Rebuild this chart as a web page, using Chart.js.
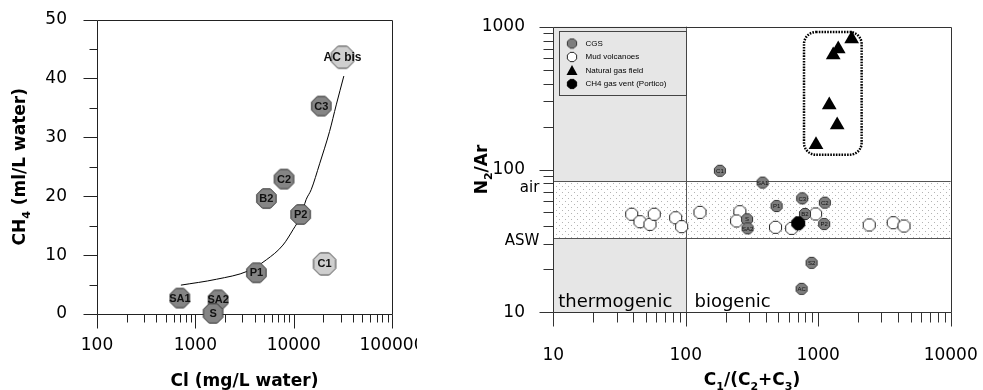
<!DOCTYPE html>
<html>
<head>
<meta charset="utf-8">
<script src="https://cdn.jsdelivr.net/npm/chart.js@4.4.1/dist/chart.umd.min.js"></script>
<style>
  html, body { margin: 0; padding: 0; background: #fff; }
  #left { position: absolute; left: 0; top: 0; width: 417px; height: 390px; overflow: hidden; }
  #right { position: absolute; left: 430px; top: 0; width: 548px; height: 390px; overflow: hidden; }
</style>
</head>
<body>
<div id="left"><canvas id="ch4" width="460" height="390" style="width:460px;height:390px"></canvas></div>
<div id="right"><canvas id="n2ar" width="553" height="390" style="width:553px;height:390px"></canvas></div>
<script>
// ---- left panel: CH4 vs chloride ----
const cgsSamples = ['AC bis', 'C3', 'C2', 'B2', 'P2', 'C1', 'P1', 'SA1', 'SA2', 'S'];
const chlorideMgL = [31400, 19100, 7980, 5280, 11780, 20640, 4180, 696, 1705, 1515];
const methaneMlL = [43.6, 35.3, 22.9, 19.6, 16.9, 8.5, 7.0, 2.7, 2.4, 0.1];
// trend line
const trendCl = [713, 1641, 3436, 5273, 7780, 9840, 11940, 13370, 15070, 18360, 23180, 27100, 32370];
const trendCh4 = [4.9, 5.9, 7.3, 9.2, 11.7, 14.3, 16.8, 19.4, 21.1, 25.5, 31.0, 35.5, 40.4];
const clTicks = [100, 1000, 10000, 100000];
const ch4Ticks = [0, 10, 20, 30, 40, 50];
const ch4Minor = [5, 15, 25, 35, 45];

// ---- right panel: N2/Ar vs C1/(C2+C3) ----
const mudRatio = [39.1, 45.1, 53.7, 57.8, 83.9, 93.1, 128, 256, 242, 476, 630, 955, 2427, 3681, 4436];
const mudN2Ar = [48.6, 43.1, 41.3, 48.6, 45.9, 39.8, 50.1, 50.6, 43.6, 39.4, 38.7, 48.8, 40.9, 42.4, 40.2];
const cgsNames = ['C1', 'SA1', 'S', 'SA2', 'P1', 'C3', 'B2', 'C2', 'P2', 'S2', 'AC'];
const cgsRatio = [181, 380, 290, 293, 485, 757, 794, 1122, 1109, 891, 749];
const cgsN2Ar = [98, 81, 44.8, 38.7, 55.5, 62.8, 48.8, 58.6, 41.5, 22.2, 14.6];
const ventRatio = [706];
const ventN2Ar = [42];
const gasRatio = [1787, 1416, 1297, 1211, 1390, 962];
const gasN2Ar = [820, 698, 634, 283, 205, 149];
const ratioTicks = [10, 100, 1000, 10000];
const n2arTicks = [10, 100, 1000];
const airN2Ar = 83;
const aswN2Ar = 33;
const thermoLimit = 100;

Chart.defaults.font.family = 'DejaVu Sans';
Chart.defaults.color = '#000';

const lightSamples = new Set(['AC bis', 'C1']);
const pts = (xs, ys) => xs.map((x, i) => ({ x: x, y: ys[i] }));

function logMinors(majors) {
  const out = [];
  for (let i = 0; i < majors.length - 1; i++)
    for (let k = 2; k < 10; k++) out.push(majors[i] * k);
  return out;
}

function octagon(r, fill, stroke) {
  const c = document.createElement('canvas');
  const s = Math.ceil(2 * r + 2);
  c.width = c.height = s;
  const g = c.getContext('2d');
  g.beginPath();
  for (let i = 0; i < 8; i++) {
    const a = Math.PI / 8 + i * Math.PI / 4;
    const px = s / 2 + r * Math.cos(a), py = s / 2 + r * Math.sin(a);
    if (i) g.lineTo(px, py); else g.moveTo(px, py);
  }
  g.closePath();
  g.fillStyle = fill;
  g.fill();
  g.strokeStyle = stroke;
  g.lineWidth = 1;
  g.stroke();
  return c;
}

// text with subscripts, centred on cx, baseline at cy
function drawRich(ctx, parts, cx, cy, size, rotate) {
  ctx.save();
  ctx.translate(cx, cy);
  if (rotate) ctx.rotate(-Math.PI / 2);
  const sub = Math.round(size * 0.62);
  const fonts = parts.map(p => 'bold ' + (p[1] ? sub : size) + 'px DejaVu Sans');
  let w = 0;
  const ws = parts.map((p, i) => { ctx.font = fonts[i]; const m = ctx.measureText(p[0]).width; w += m; return m; });
  let x = -w / 2;
  ctx.fillStyle = '#000';
  ctx.textBaseline = 'alphabetic';
  parts.forEach((p, i) => {
    ctx.font = fonts[i];
    ctx.fillText(p[0], x, p[1] ? size * 0.28 : 0);
    x += ws[i];
  });
  ctx.restore();
}

// frame + tick marks, drawn through the scales
const frame = {
  id: 'frame',
  beforeDatasetsDraw(chart, args, o) {
    const { ctx, chartArea: a } = chart;
    const xs = chart.scales.x, ys = chart.scales.y;
    const L = Math.round(a.left) + 0.5, R = Math.round(a.right) + 0.5;
    const T = Math.round(a.top) + 0.5, B = Math.round(a.bottom) + 0.5;
    ctx.save();
    ctx.strokeStyle = o.color;
    ctx.lineWidth = 1;
    ctx.beginPath();
    ctx.rect(L, T, R - L, B - T);
    o.xMajor.forEach(v => { const p = Math.round(xs.getPixelForValue(v)) + 0.5; ctx.moveTo(p, B); ctx.lineTo(p, B + o.major); });
    o.xMinor.forEach(v => { const p = Math.round(xs.getPixelForValue(v)) + 0.5; ctx.moveTo(p, B); ctx.lineTo(p, B + o.minor); });
    o.yMajor.forEach(v => { const p = Math.round(ys.getPixelForValue(v)) + 0.5; ctx.moveTo(L, p); ctx.lineTo(L - o.major, p); });
    o.yMinor.forEach(v => { const p = Math.round(ys.getPixelForValue(v)) + 0.5; ctx.moveTo(L, p); ctx.lineTo(L - o.minor, p); });
    ctx.stroke();
    ctx.restore();
  }
};

const pointNames = {
  id: 'pointNames',
  afterDatasetsDraw(chart) {
    const ctx = chart.ctx;
    chart.data.datasets.forEach((ds, i) => {
      if (!ds.names) return;
      const meta = chart.getDatasetMeta(i);
      ctx.save();
      ctx.fillStyle = '#111';
      ctx.textAlign = 'center';
      ctx.textBaseline = 'middle';
      meta.data.forEach((el, j) => {
        const n = ds.names[j];
        ctx.font = n === 'AC bis' ? 'bold 12px Liberation Sans' : ds.nameFont;
        ctx.fillText(n, el.x, el.y + 0.5);
      });
      ctx.restore();
    });
  }
};

const leftTitles = {
  id: 'leftTitles',
  afterDraw(chart) {
    const { ctx, chartArea: a } = chart;
    drawRich(ctx, [['Cl (mg/L water)', false]], (a.left + a.right) / 2, 386, 17, false);
    drawRich(ctx, [['CH', false], ['4', true], [' (ml/L water)', false]], 25, (a.top + a.bottom) / 2, 17, true);
  }
};

// axis whose box size is fixed so the plot area lands where the figure has it
const fixedScale = (min, max, type, pad, ticks, isX, size) => ({
  type: type, min: min, max: max,
  afterFit: s => {
    if (isX) s.height = size; else s.width = size;
    s.paddingLeft = s.paddingRight = s.paddingTop = s.paddingBottom = 0;
  },
  afterBuildTicks: s => { s.ticks = ticks.map(v => ({ value: v })); },
  grid: { display: false, drawTicks: false },
  border: { display: false },
  ticks: { padding: pad, color: '#000', font: { size: 17 }, maxRotation: 0, autoSkip: false, callback: v => String(v) }
});

new Chart(document.getElementById('ch4'), {
  type: 'scatter',
  data: {
    datasets: [
      {
        label: 'CGS',
        data: pts(chlorideMgL, methaneMlL),
        names: cgsSamples,
        nameFont: 'bold 11px Liberation Sans',
        pointStyle: cgsSamples.map(n => lightSamples.has(n) ? octagon(12, '#cfcfcf', '#444') : octagon(10.5, '#858585', '#333')),
        clip: false,
        order: 0
      },
      {
        label: 'trend',
        data: pts(trendCl, trendCh4),
        showLine: true,
        pointRadius: 0,
        borderColor: '#000',
        borderWidth: 1,
        cubicInterpolationMode: 'monotone',
        clip: false,
        order: 1
      }
    ]
  },
  options: {
    responsive: false,
    animation: false,
    devicePixelRatio: 1,
    events: [],
    layout: { padding: { left: 0, top: 19.5, right: 68, bottom: 0 } },
    scales: {
      x: fixedScale(100, 100000, 'logarithmic', 21, clTicks, true, 76),
      y: fixedScale(0, 50, 'linear', 30, ch4Ticks, false, 97)
    },
    plugins: {
      legend: { display: false },
      tooltip: { enabled: false },
      frame: { color: '#222', major: 14, minor: 8, xMajor: clTicks, xMinor: logMinors(clTicks), yMajor: ch4Ticks, yMinor: ch4Minor }
    }
  },
  plugins: [frame, pointNames, leftTitles]
});

// ---- right panel decorations ----
function dotPattern(ctx) {
  const t = document.createElement('canvas');
  t.width = t.height = 6;
  const g = t.getContext('2d');
  g.fillStyle = '#b4b4b4';
  g.fillRect(0, 0, 1, 1);
  g.fillRect(3, 3, 1, 1);
  return ctx.createPattern(t, 'repeat');
}

function roundRectPath(ctx, x, y, w, h, r) {
  ctx.beginPath();
  ctx.moveTo(x + r, y);
  ctx.arcTo(x + w, y, x + w, y + h, r);
  ctx.arcTo(x + w, y + h, x, y + h, r);
  ctx.arcTo(x, y + h, x, y, r);
  ctx.arcTo(x, y, x + w, y, r);
  ctx.closePath();
}

const zones = {
  id: 'zones',
  beforeDatasetsDraw(chart) {
    const { ctx, chartArea: a, scales: { x, y } } = chart;
    const xT = Math.round(x.getPixelForValue(thermoLimit)) + 0.5;
    const yA = Math.round(y.getPixelForValue(airN2Ar)) + 0.5;
    const yW = Math.round(y.getPixelForValue(aswN2Ar)) + 0.5;
    ctx.save();
    ctx.fillStyle = '#e6e6e6';
    ctx.fillRect(a.left, a.top, xT - a.left, a.bottom - a.top);
    ctx.fillStyle = '#fff';
    ctx.fillRect(a.left, yA, a.right - a.left, yW - yA);
    ctx.fillStyle = dotPattern(ctx);
    ctx.fillRect(a.left, yA, a.right - a.left, yW - yA);
    ctx.strokeStyle = '#555';
    ctx.lineWidth = 1;
    ctx.beginPath();
    ctx.moveTo(a.left, yA); ctx.lineTo(a.right, yA);
    ctx.moveTo(a.left, yW); ctx.lineTo(a.right, yW);
    ctx.moveTo(xT, a.top); ctx.lineTo(xT, a.bottom);
    ctx.stroke();
    // zone names
    ctx.fillStyle = '#000';
    ctx.font = '18px DejaVu Sans';
    ctx.textBaseline = 'alphabetic';
    ctx.fillText('thermogenic', a.left + 5, a.bottom - 5);
    ctx.fillText('biogenic', xT + 8, a.bottom - 5);
    // air / ASW marks beside the axis
    ctx.font = '15px DejaVu Sans';
    ctx.textAlign = 'right';
    ctx.fillText('air', a.left - 14, yA + 10);
    ctx.fillText('ASW', a.left - 14, yW + 6);
    ctx.restore();
  },
  afterDatasetsDraw(chart) {
    const { ctx, chartArea: a, scales: { x } } = chart;
    ctx.save();
    // dotted outline around the natural gas field
    const meta = chart.getDatasetMeta(3);
    const px = meta.data.map(e => e.x), py = meta.data.map(e => e.y);
    const l = Math.min(...px) - 12, r = Math.max(...px) + 10;
    const t = Math.min(...py) - 7, b = Math.max(...py) + 10;
    ctx.strokeStyle = '#000';
    ctx.lineWidth = 2.5;
    ctx.setLineDash([1.6, 1.2]);
    roundRectPath(ctx, l, t, r - l, b - t, 12);
    ctx.stroke();
    ctx.setLineDash([]);
    // legend box
    const bl = Math.round(a.left + 5.7) + 0.5, bt = Math.round(a.top + 4) + 0.5;
    const br = Math.round(x.getPixelForValue(thermoLimit)) + 0.5;
    ctx.fillStyle = '#e6e6e6';
    ctx.fillRect(bl, bt, br - bl, 64);
    ctx.strokeStyle = '#444';
    ctx.lineWidth = 1;
    ctx.strokeRect(bl, bt, br - bl, 64);
    const items = chart.data.datasets;
    const order = [0, 1, 3, 2];
    ctx.font = '8px Liberation Sans';
    ctx.textBaseline = 'middle';
    order.forEach((di, k) => {
      const ds = items[di];
      const my = bt + 12 + k * 13.5;
      const mx = bl + 12.5;
      if (ds.legendMark) {
        ctx.drawImage(ds.legendMark, mx - ds.legendMark.width / 2, my - ds.legendMark.height / 2);
      } else {
        ctx.fillStyle = '#000';
        ctx.beginPath();
        ctx.moveTo(mx, my - 5.5); ctx.lineTo(mx + 5.5, my + 4.5); ctx.lineTo(mx - 5.5, my + 4.5);
        ctx.closePath();
        ctx.fill();
      }
      ctx.fillStyle = '#000';
      ctx.fillText(ds.label, bl + 26, my);
    });
    ctx.restore();
  }
};

const rightTitles = {
  id: 'rightTitles',
  afterDraw(chart) {
    const { ctx, chartArea: a } = chart;
    drawRich(ctx, [['C', false], ['1', true], ['/(C', false], ['2', true], ['+C', false], ['3', true], [')', false]], (a.left + a.right) / 2, 385, 17, false);
    drawRich(ctx, [['N', false], ['2', true], ['/Ar', false]], 57, (a.top + a.bottom) / 2, 17, true);
  }
};

new Chart(document.getElementById('n2ar'), {
  type: 'scatter',
  data: {
    datasets: [
      {
        label: 'CGS',
        data: pts(cgsRatio, cgsN2Ar),
        names: cgsNames,
        nameFont: '6px Liberation Sans',
        pointStyle: octagon(6, '#7d7d7d', '#333'),
        legendMark: octagon(5, '#7d7d7d', '#333'),
        clip: false,
        order: 2
      },
      {
        label: 'Mud volcanoes',
        data: pts(mudRatio, mudN2Ar),
        pointStyle: octagon(6.5, '#fff', '#222'),
        legendMark: octagon(5, '#fff', '#222'),
        clip: false,
        order: 3
      },
      {
        label: 'CH4 gas vent (Portico)',
        data: pts(ventRatio, ventN2Ar),
        pointStyle: octagon(7, '#000', '#000'),
        legendMark: octagon(5, '#000', '#000'),
        clip: false,
        order: 1
      },
      {
        label: 'Natural gas field',
        data: pts(gasRatio, gasN2Ar),
        pointStyle: 'triangle',
        pointRadius: 8.5,
        backgroundColor: '#000',
        borderColor: '#000',
        borderWidth: 0,
        clip: false,
        order: 0
      }
    ]
  },
  options: {
    responsive: false,
    animation: false,
    devicePixelRatio: 1,
    events: [],
    layout: { padding: { left: 0, top: 26.7, right: 32.3, bottom: 0 } },
    scales: {
      x: fixedScale(10, 10000, 'logarithmic', 33.5, ratioTicks, true, 77.7),
      y: fixedScale(10, 1000, 'logarithmic', 28.3, n2arTicks, false, 123.3)
    },
    plugins: {
      legend: { display: false },
      tooltip: { enabled: false },
      frame: { color: '#333', major: 14, minor: 10, xMajor: ratioTicks, xMinor: logMinors(ratioTicks), yMajor: n2arTicks, yMinor: logMinors(n2arTicks) }
    }
  },
  plugins: [zones, frame, pointNames, rightTitles]
});
</script>
</body>
</html>
